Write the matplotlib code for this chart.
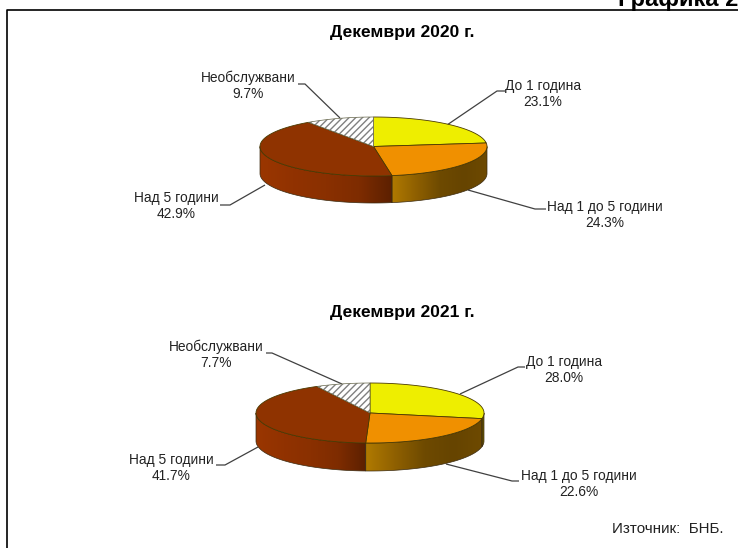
import numpy as np
import matplotlib
matplotlib.use("Agg")
import matplotlib.pyplot as plt
from matplotlib.patches import Polygon
from matplotlib.colors import LinearSegmentedColormap

plt.rcParams['font.family'] = ['Liberation Sans', 'DejaVu Sans']
plt.rcParams['hatch.linewidth'] = 1.0

categories = ["До 1 година", "Над 1 до 5 години", "Над 5 години", "Необслужвани"]
values_2020 = [23.1, 24.3, 42.9, 9.7]
values_2021 = [28.0, 22.6, 41.7, 7.7]
titles = ["Декември 2020 г.", "Декември 2021 г."]
top_colors = ["#EEEE00", "#F09000", "#8F3300", "#FFFFFF"]

W, H = 738, 548
fig = plt.figure(figsize=(W / 100, H / 100), dpi=100, facecolor="white")
ax = fig.add_axes([0, 0, 1, 1])
ax.set_xlim(0, W)
ax.set_ylim(H, 0)
ax.axis("off")

orange_cm = LinearSegmentedColormap.from_list("o", ["#B07A00", "#8F6000", "#6E4A00", "#664400", "#6E4A00"])
brown_cm = LinearSegmentedColormap.from_list("b", ["#9A3600", "#913200", "#8A3000", "#7E2C00", "#5C2000"])
olive_cm = LinearSegmentedColormap.from_list("y", ["#6B5A00", "#6B5A00"])
side_maps = [olive_cm, orange_cm, brown_cm, brown_cm]


def pt(cx, cy, rx, ry, th):
    return cx + rx * np.sin(th), cy - ry * np.cos(th)


def pie3d(values, cx, cy, rx, ry, depth, labels, title, title_y):
    edges = np.radians(np.concatenate([[0], np.cumsum(values)]) * 3.6)
    # side walls
    for i in range(len(values)):
        a, b = max(edges[i], np.pi / 2), min(edges[i + 1], 3 * np.pi / 2)
        if a >= b:
            continue
        th = np.linspace(a, b, 80)
        x, y = pt(cx, cy, rx, ry, th)
        verts = np.vstack([np.c_[x, y], np.c_[x, y + depth][::-1]])
        im = ax.imshow(np.linspace(0, 1, 256)[None, :], cmap=side_maps[i], aspect="auto",
                       extent=[x.min(), x.max(), y.max() + depth, y.min()], zorder=2)
        poly = Polygon(verts, closed=True, fc="none", ec="#3a2a10", lw=0.5, zorder=3)
        ax.add_patch(poly)
        im.set_clip_path(poly)
    # top slices
    for i in range(len(values)):
        th = np.linspace(edges[i], edges[i + 1], 120)
        x, y = pt(cx, cy, rx, ry, th)
        verts = np.vstack([[cx, cy], np.c_[x, y], [cx, cy]])
        if i == 3:
            ax.add_patch(Polygon(verts, closed=True, fc="white", ec="#808080", hatch="/////", lw=0, zorder=4))
            ax.add_patch(Polygon(verts, closed=True, fc="none", ec="#66664a", lw=0.5, zorder=5))
        else:
            ax.add_patch(Polygon(verts, closed=True, fc=top_colors[i], ec="#4a3a00", lw=0.6, zorder=4))
    # labels with leaders
    for name, val, lab in zip(categories, values, labels):
        tx, ty, line = lab
        lx, ly = zip(*line)
        ax.plot(lx, ly, color="#404040", lw=0.9, zorder=1, solid_capstyle="butt")
        ax.text(tx, ty, f"{name}\n{val:.1f}%", ha="center", va="center", fontsize=9.9,
                color="#222222", linespacing=1.14, zorder=6)
    ax.text(402, title_y, title, ha="center", va="center", fontsize=12.5, fontweight="bold", color="black")


labels_2020 = [
    (543, 94, [(447, 125), (497, 91), (505, 91)]),
    (605, 215, [(468, 190), (535, 209), (546, 209)]),
    (176, 206, [(265, 185), (230, 205), (220, 205)]),
    (248, 86, [(340, 118), (305, 84), (298, 84)]),
]
labels_2021 = [
    (564, 370, [(460, 394), (518, 367), (525, 367)]),
    (579, 484, [(446, 464), (512, 481), (519, 481)]),
    (171, 468, [(258, 447), (225, 465), (216, 465)]),
    (216, 355, [(342, 384), (272, 353), (266, 353)]),
]

pie3d(values_2020, 373.5, 146.5, 113.5, 29.5, 27, labels_2020, titles[0], 32)
pie3d(values_2021, 370, 413, 114, 30, 28, labels_2021, titles[1], 312)

# frame
ax.plot([7, 7, W], [H, 10, 10], color="black", lw=1.2, zorder=7, solid_capstyle="butt")
ax.text(738, 6, "Графика 2", ha="right", va="baseline", fontsize=17, fontweight="bold", color="black")
ax.text(723, 529, "Източник:  БНБ.", ha="right", va="center", fontsize=10.9, color="#222222")
ax.set_xlim(0, W)
ax.set_ylim(H, 0)

fig.savefig("out.png", dpi=100)
